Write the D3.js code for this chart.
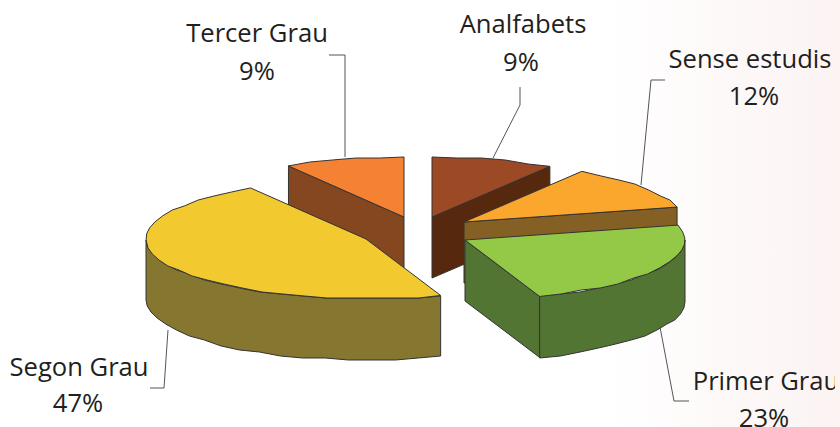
<!DOCTYPE html>
<html><head><meta charset="utf-8">
<style>html,body{margin:0;padding:0;background:#fff;overflow:hidden}svg{display:block}</style>
<script src="https://cdn.jsdelivr.net/npm/d3@7/dist/d3.min.js"></script></head>
<body><svg id="c" width="840" height="427"></svg>
<script>
const categories = ["Analfabets","Sense estudis","Primer Grau","Segon Grau","Tercer Grau"];
const shares = [9,12,23.49,46.71,8.8];
const topColors = ["#9c4a25","#fba72e","#94c947","#f2c92f","#f58233"];
const wallColors = ["#56280e","#846025","#527534","#857630","#85471f"];
const apexX = [432,464,465,366,404];
const apexY = [217,222,240,239,217];
const labelX = [523,750,766,79,257];
const labelY = [33,68,390,376,42];
const pctX = [521,754,764,78,257];
const pctY = [71,105,427,412,80];
const leaders = [
  [[493,158],[520,105],[520,87]],
  [[641,185],[651,80],[665,80]],
  [[660,327],[674,401],[689,401]],
  [[168,330],[164,388],[150,388]],
  [[345,157],[345,55],[329,55]]];
const RX=220, RY=60, DEPTH=61, STEP=6, GRID=2;

const svg=d3.select("#c");
const defs=svg.append("defs");
const g=defs.append("linearGradient").attr("id","bg");
g.append("stop").attr("offset","0").attr("stop-color","#fff");
g.append("stop").attr("offset","0.72").attr("stop-color","#fff");
g.append("stop").attr("offset","1").attr("stop-color","#fcf3f3");
defs.append("clipPath").attr("id","edge").append("rect").attr("width",835).attr("height",427);
svg.append("rect").attr("width",840).attr("height",427).attr("fill","url(#bg)");

const arcs=d3.pie().sort(null).value(d=>d)(shares);
const xS=d3.scaleLinear().domain([-1,1]).range([-RX,RX]);
const yS=d3.scaleLinear().domain([-1,1]).range([-RY,RY]);
const line=d3.line();
const rim=(i,a,dz=0,snap=true)=>{
  let y=apexY[i]-yS(Math.cos(a))+dz;
  if(snap) y=Math.round(y/GRID)*GRID;
  return [apexX[i]+xS(Math.sin(a)),y];
};
const samples=(a0,a1)=>{
  const n=Math.max(1,Math.round((a1-a0)/(STEP*Math.PI/180)));
  return d3.range(n+1).map(k=>a0+(a1-a0)*k/n);
};
const stroke="#333";
[4,0,1,3,2].forEach(i=>{
  const {startAngle:a0,endAngle:a1}=arcs[i];
  const G=svg.append("g");
  const ax=apexX[i], ay=apexY[i];
  const wall=(pts)=>G.append("path").attr("d",line(pts)+"Z").attr("fill",wallColors[i]).attr("stroke",stroke).attr("stroke-width",1).attr("stroke-linejoin","round");
  const s=rim(i,a0,0,false), e=rim(i,a1,0,false);
  if(Math.cos(a0)>0 && Math.sin(a0)<0) wall([[ax,ay],s,[s[0],s[1]+DEPTH],[ax,ay+DEPTH]]);
  if(Math.sin(a1)>0 && a1<Math.PI) wall([[ax,ay],e,[e[0],e[1]+DEPTH],[ax,ay+DEPTH]]);
  const w0=Math.max(a0,Math.PI/2), w1=Math.min(a1,3*Math.PI/2);
  if(w1>w0){
    const t=samples(w0,w1);
    wall(t.map(a=>rim(i,a)).concat(t.slice().reverse().map(a=>rim(i,a,DEPTH))));
  }
  const top=[[ax,ay],s].concat(samples(a0,a1).slice(1,-1).map(a=>rim(i,a))).concat([e]);
  G.append("path").attr("d",line(top)+"Z").attr("fill",topColors[i]).attr("stroke",stroke).attr("stroke-width",1).attr("stroke-linejoin","round");
});
leaders.forEach(l=>svg.append("path").attr("d",line(l)).attr("fill","none").attr("stroke","#555").attr("stroke-width",1));
const lab=svg.append("g").attr("clip-path","url(#edge)").attr("font-family",'"Open Sans"').attr("font-size",25.6).attr("fill","#231f20").attr("text-anchor","middle");
categories.forEach((c,i)=>{
  lab.append("text").attr("x",labelX[i]).attr("y",labelY[i]).text(c);
  lab.append("text").attr("x",pctX[i]).attr("y",pctY[i]).text(Math.round(shares[i])+"%");
});
</script></body></html>
